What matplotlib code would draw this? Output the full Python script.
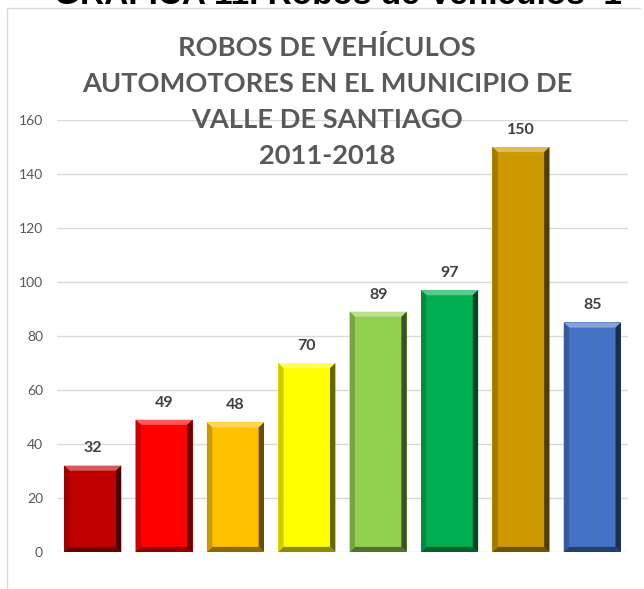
import matplotlib
matplotlib.use("Agg")
import matplotlib.pyplot as plt
from matplotlib.patches import Polygon
from matplotlib.lines import Line2D
from matplotlib.colors import to_rgb

# ─── data ─────────────────────────────────────────────
years  = ["2011", "2012", "2013", "2014", "2015", "2016", "2017", "2018"]
robos  = [32, 49, 48, 70, 89, 97, 150, 85]
colors = ["#C00000", "#FF0000", "#FFC000", "#FFFF00",
          "#92D050", "#00B050", "#CC9900", "#4472C4"]
yticks = [0, 20, 40, 60, 80, 100, 120, 140, 160]

title = "ROBOS DE VEHÍCULOS\nAUTOMOTORES EN EL MUNICIPIO DE\nVALLE DE SANTIAGO\n2011-2018"
header = "GRÁFICA 11. Robos de Vehículos  1"
# ──────────────────────────────────────────────────────

W, H = 644, 589
fig = plt.figure(figsize=(W / 100, H / 100), dpi=100)
ax = fig.add_axes([57 / W, 1 - 552 / H, (628 - 57) / W, (552 - 120) / H])

def shade(c, f):
    r, g, b = to_rgb(c)
    if f < 0:
        return (r * (1 + f), g * (1 + f), b * (1 + f))
    return (r + (1 - r) * f, g + (1 - g) * f, b + (1 - b) * f)

x = range(len(years))
bars = ax.bar(x, robos, width=0.8, color=colors, zorder=2)

# bevel effect (edge strips derived from each bar)
dx, dy = 0.075, 1.9
for b, c in zip(bars, colors):
    x0, x1 = b.get_x(), b.get_x() + b.get_width()
    y0, y1 = 0, b.get_height()
    faces = [
        ([(x0, y1), (x1, y1), (x1 - dx, y1 - dy), (x0 + dx, y1 - dy)], shade(c, 0.35)),
        ([(x1, y1), (x1, y0), (x1 - dx, y0 + dy), (x1 - dx, y1 - dy)], shade(c, -0.6)),
        ([(x0, y0), (x1, y0), (x1 - dx, y0 + dy), (x0 + dx, y0 + dy)], shade(c, -0.45)),
        ([(x0, y1), (x0, y0), (x0 + dx, y0 + dy), (x0 + dx, y1 - dy)], shade(c, -0.2)),
    ]
    for pts, fc in faces:
        ax.add_patch(Polygon(pts, closed=True, facecolor=fc, edgecolor="none", zorder=3))
    ax.annotate(str(int(y1)), (b.get_x() + b.get_width() / 2, y1),
                xytext=(0, 9.5), textcoords="offset points",
                ha="center", va="baseline", fontsize=11.5, fontweight="bold",
                color="#404040", family="Lato", zorder=4)

ax.set_ylim(0, 160)
ax.set_xlim(-0.5, len(years) - 0.5)
ax.set_yticks(yticks)
ax.set_xticks([])
ax.tick_params(axis="y", length=0, labelsize=10, labelcolor="#595959", pad=10)
for lbl in ax.get_yticklabels():
    lbl.set_family("Lato")
ax.grid(axis="y", color="#D9D9D9", linewidth=1, zorder=0)
for s in ax.spines.values():
    s.set_visible(False)

# chart frame
fy = 1 - 8 / H
fx = 7 / W
fig.add_artist(Line2D([fx, fx], [0, fy], color="#D9D9D9", linewidth=1))
fig.add_artist(Line2D([fx, 640 / W], [fy, fy], color="#D9D9D9", linewidth=1))

fig.text(327 / W, 1 - 101 / H, title, ha="center", va="center", fontsize=19.6,
         fontweight="bold", color="#595959", family="Lato", linespacing=1.6)

fig.text(338 / W, 1 - 4 / H, header, ha="center", va="baseline", fontsize=24,
         fontweight="bold", color="black", family="Liberation Sans")

fig.savefig("out.png", dpi=100)
